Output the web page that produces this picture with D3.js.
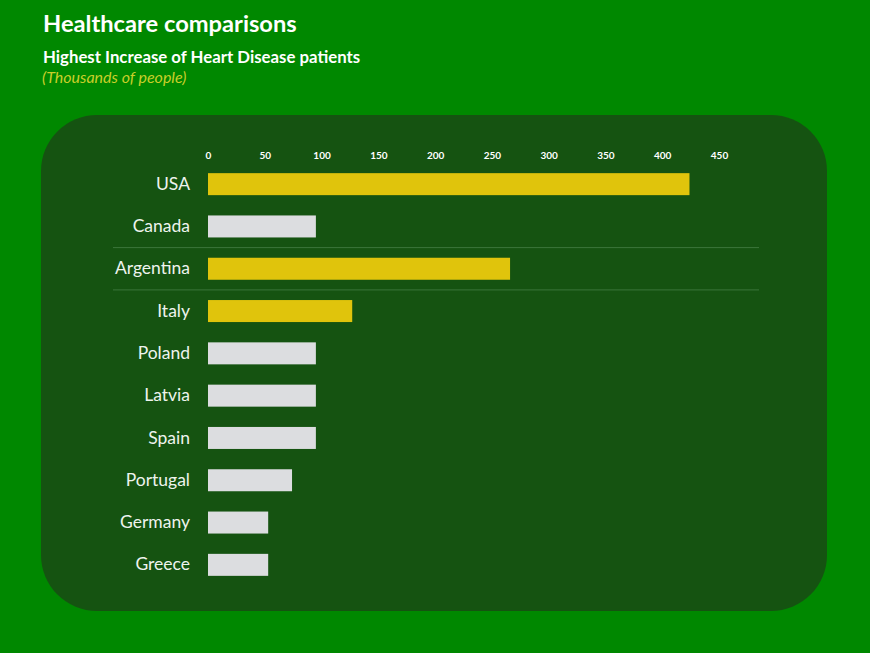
<!DOCTYPE html>
<html><head><meta charset="utf-8">
<script src="https://cdn.jsdelivr.net/npm/d3@7"></script>
<style>html,body{margin:0;padding:0;background:#008800;}svg{display:block;}</style>
</head><body>
<script>
const categories = ["USA","Canada","Argentina","Italy","Poland","Latvia","Spain","Portugal","Germany","Greece"];
const values = [424, 95, 266, 127, 95, 95, 95, 74, 53, 53];
const highlighted = ["USA","Argentina","Italy"];
const tickValues = [0,50,100,150,200,250,300,350,400,450];
const title = "Healthcare comparisons";
const subtitle = "Highest Increase of Heart Disease patients";
const unitNote = "(Thousands of people)";

const W = 870, H = 653;
const font = "Lato, 'Open Sans', sans-serif";
const svg = d3.select("body").append("svg").attr("width", W).attr("height", H);
svg.append("rect").attr("width", W).attr("height", H).attr("fill", "#008800");

svg.append("rect").attr("x", 41).attr("y", 115).attr("width", 786).attr("height", 496)
  .attr("rx", 56).attr("ry", 56).attr("fill", "#155311");

svg.append("text").attr("x", 43).attr("y", 32).text(title)
  .attr("font-family", font).attr("font-weight", "bold").attr("font-size", 23.7).attr("fill", "#ffffff");
svg.append("text").attr("x", 43).attr("y", 63).text(subtitle)
  .attr("font-family", font).attr("font-weight", "bold").attr("font-size", 16.8).attr("fill", "#ffffff");
svg.append("text").attr("x", 42).attr("y", 83).text(unitNote)
  .attr("font-family", font).attr("font-style", "italic").attr("font-size", 16).attr("fill", "#c9cf2a");

const x = d3.scaleLinear().domain([0, 450]).range([208, 719]);
const y = d3.scaleBand().domain(categories).range([163, 586]).paddingInner(0.48).paddingOuter(0.24);

const step = y.step();
const sepYs = [y("Argentina") - (step - y.bandwidth())/2, y("Argentina") + y.bandwidth() + (step - y.bandwidth())/2];
svg.selectAll("line.sep").data(sepYs).join("line").attr("class","sep")
  .attr("x1", 113).attr("x2", 759).attr("y1", d => d).attr("y2", d => d)
  .attr("stroke", "#3b763b").attr("stroke-width", 1);

const xAxis = d3.axisTop(x).tickValues(tickValues).tickSize(0).tickPadding(0);
const gx = svg.append("g").attr("transform", "translate(0,159)").call(xAxis);
gx.select(".domain").remove();
gx.selectAll("text").attr("font-family", font).attr("font-weight", "bold").attr("font-size", 10).attr("fill", "#ffffff");

svg.selectAll("rect.bar").data(categories).join("rect").attr("class","bar")
  .attr("x", x(0)).attr("y", d => y(d))
  .attr("width", (d,i) => x(values[i]) - x(0)).attr("height", y.bandwidth())
  .attr("fill", d => highlighted.includes(d) ? "#e0c40c" : "#dcdde0");

const yAxis = d3.axisLeft(y).tickSize(0).tickPadding(18);
const gy = svg.append("g").attr("transform", `translate(${x(0)},0)`).call(yAxis);
gy.select(".domain").remove();
gy.selectAll("text").attr("font-family", font).attr("font-size", 17.5).attr("fill", "#eef3ee");
</script>
</body></html>
